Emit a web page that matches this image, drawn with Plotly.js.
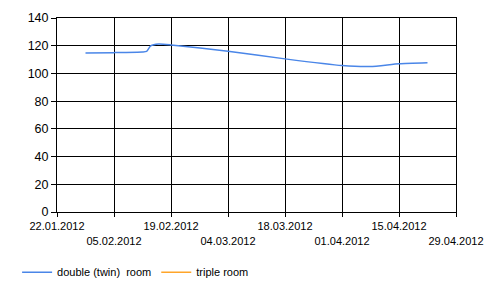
<!DOCTYPE html>
<html>
<head>
<meta charset="utf-8">
<script src="https://cdn.plot.ly/plotly-3.0.1.min.js"></script>
<style>html,body{margin:0;padding:0;background:#fff;}#chart{width:500px;height:296px;}</style>
</head>
<body>
<div id="chart"></div>
<script>
const doubleDates = ['2012-01-29','2012-02-05','2012-02-12','2012-02-13','2012-02-14','2012-02-16','2012-02-19','2012-03-04','2012-03-18','2012-04-01','2012-04-08','2012-04-15','2012-04-22'];
const doubleValues = [114.7,115.0,115.5,115.9,119.8,121.2,120.6,116.0,110.5,105.7,105.0,107.0,107.7];
const tripleDates = ['2012-01-29'];
const tripleValues = [null];
const tickDates = ['2012-01-22','2012-02-05','2012-02-19','2012-03-04','2012-03-18','2012-04-01','2012-04-15','2012-04-29'];
const tickLabels = ['22.01.2012','05.02.2012','19.02.2012','04.03.2012','18.03.2012','01.04.2012','15.04.2012','29.04.2012'];
const yTicks = [0,20,40,60,80,100,120,140];

const staggered = tickLabels.map((t,i) => i % 2 === 0 ? t : '<br>' + t);

const data = [
  {x: doubleDates, y: doubleValues, type: 'scatter', mode: 'lines', name: 'double (twin)  room',
   line: {color: '#4A86E8', width: 1.5, shape: 'spline', smoothing: 0.5}},
  {x: tripleDates, y: tripleValues, type: 'scatter', mode: 'lines', name: 'triple room',
   line: {color: '#FFA52A', width: 1.5}}
];

const layout = {
  width: 500, height: 296,
  margin: {l: 57, r: 44, t: 18, b: 84, autoexpand: false},
  paper_bgcolor: '#fff', plot_bgcolor: '#fff',
  font: {family: 'Liberation Sans, Arial, sans-serif', color: '#000', size: 11},
  showlegend: true,
  hovermode: false,
  xaxis: {
    type: 'date', range: ['2012-01-22','2012-04-29'],
    tickmode: 'array', tickvals: tickDates, ticktext: staggered,
    showgrid: true, gridcolor: '#000', gridwidth: 1,
    showline: true, linecolor: '#000', linewidth: 1, mirror: true,
    ticks: 'outside', ticklen: 4, tickcolor: '#000',
    tickfont: {size: 11}, zeroline: false, tickangle: 0
  },
  yaxis: {
    range: [0,140], tickmode: 'array', tickvals: yTicks,
    showgrid: true, gridcolor: '#000', gridwidth: 1,
    showline: true, linecolor: '#000', linewidth: 1, mirror: true,
    ticks: 'outside', ticklen: 5, tickcolor: '#000',
    tickfont: {size: 12.5}, zeroline: false
  },
  legend: {
    orientation: 'h', x: -0.10, xanchor: 'left', y: -0.31, yanchor: 'middle',
    font: {size: 11}, bgcolor: 'rgba(0,0,0,0)', itemwidth: 30
  }
};

Plotly.newPlot('chart', data, layout, {displayModeBar: false, staticPlot: true});
</script>
</body>
</html>
